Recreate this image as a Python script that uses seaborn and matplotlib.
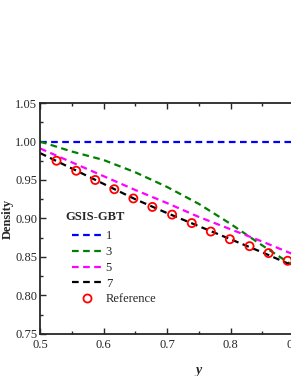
import numpy as np
import pandas as pd
import matplotlib
matplotlib.use("Agg")
import matplotlib.pyplot as plt
import seaborn as sns
from matplotlib.ticker import MultipleLocator
from matplotlib.lines import Line2D

# values
y_grid = [0.50, 0.55, 0.60, 0.65, 0.70, 0.75, 0.80, 0.85, 0.90, 0.95, 1.00]
dens_1 = [1.000, 1.000, 1.000, 1.000, 1.000, 1.000, 1.000, 1.000, 1.000, 1.000, 1.000]
dens_3 = [1.000, 0.987, 0.976, 0.960, 0.941, 0.919, 0.893, 0.865, 0.838, 0.815, 0.795]
dens_5 = [0.991, 0.973, 0.955, 0.937, 0.920, 0.902, 0.886, 0.870, 0.853, 0.837, 0.820]
dens_7 = [0.985, 0.965, 0.945, 0.925, 0.907, 0.890, 0.873, 0.856, 0.838, 0.821, 0.805]

ref_y = [0.526, 0.557, 0.587, 0.617, 0.647, 0.677, 0.708, 0.739, 0.769, 0.799,
         0.830, 0.860, 0.890, 0.920, 0.951, 0.981]
ref_dens = [0.975, 0.962, 0.950, 0.938, 0.926, 0.915, 0.905, 0.894, 0.883, 0.873,
            0.864, 0.855, 0.845, 0.836, 0.827, 0.818]

series_names = ["1", "3", "5", "7"]
series_colors = ["#0000ff", "#008000", "#ff00ff", "#000000"]

sns.set_style("ticks")
plt.rcParams["font.family"] = ["Liberation Serif", "DejaVu Serif"]

df = pd.DataFrame({"y": y_grid * 4,
                   "density": dens_1 + dens_3 + dens_5 + dens_7,
                   "case": sum([[n] * len(y_grid) for n in series_names], [])})
df_ref = pd.DataFrame({"y": ref_y, "density": ref_dens})

fig = plt.figure(figsize=(2.91, 3.76), dpi=100)
# axes runs past the right edge, as in the cropped reference
ax = fig.add_axes([0.1375, 0.112, 1.091, 0.614])

sns.lineplot(data=df, x="y", y="density", hue="case", palette=series_colors,
             hue_order=series_names, linewidth=1.6, ax=ax, legend=False)
for line in ax.lines:
    line.set_dashes((3, 2))

sns.scatterplot(data=df_ref, x="y", y="density", ax=ax, marker="o", s=34,
                facecolors="none", edgecolor="red", linewidth=1.3, zorder=5)

ax.set_xlim(0.5, 1.0)
ax.set_ylim(0.75, 1.05)
ax.xaxis.set_major_locator(MultipleLocator(0.1))
ax.xaxis.set_minor_locator(MultipleLocator(0.05))
ax.yaxis.set_major_locator(MultipleLocator(0.05))
ax.yaxis.set_minor_locator(MultipleLocator(0.025))
ax.tick_params(which="both", direction="in", top=True, right=True, labelsize=9, width=1)
ax.tick_params(which="major", length=4)
ax.tick_params(which="minor", length=2)
ax.tick_params(axis="x", pad=4)
ax.tick_params(axis="y", pad=2)
for s in ax.spines.values():
    s.set_linewidth(1.3)
    s.set_visible(True)

ax.set_xlabel("y", fontsize=10, fontweight="bold", fontstyle="italic", labelpad=9)
ax.set_ylabel("Density", fontsize=9, fontweight="bold", labelpad=1)

# legend (title drawn as its own text so it sits a bit left of the handles)
ax.text(0.079, 0.506, "GSIS-GBT", transform=ax.transAxes, fontsize=9,
        fontweight="bold", ha="left", va="center")
handles = [Line2D([], [], color=c, lw=1.6, dashes=(3, 2)) for c in series_colors]
handles.append(Line2D([], [], ls="none", marker="o", mfc="none", mec="red", ms=5.8, mew=1.3))
labels = series_names + ["Reference"]
leg = ax.legend(handles, labels, loc="upper left",
                bbox_to_anchor=(0.085, 0.47), frameon=False, fontsize=9,
                handlelength=2.4, handletextpad=0.3, labelspacing=0.3,
                borderaxespad=0)

fig.savefig("out.png", dpi=100)
